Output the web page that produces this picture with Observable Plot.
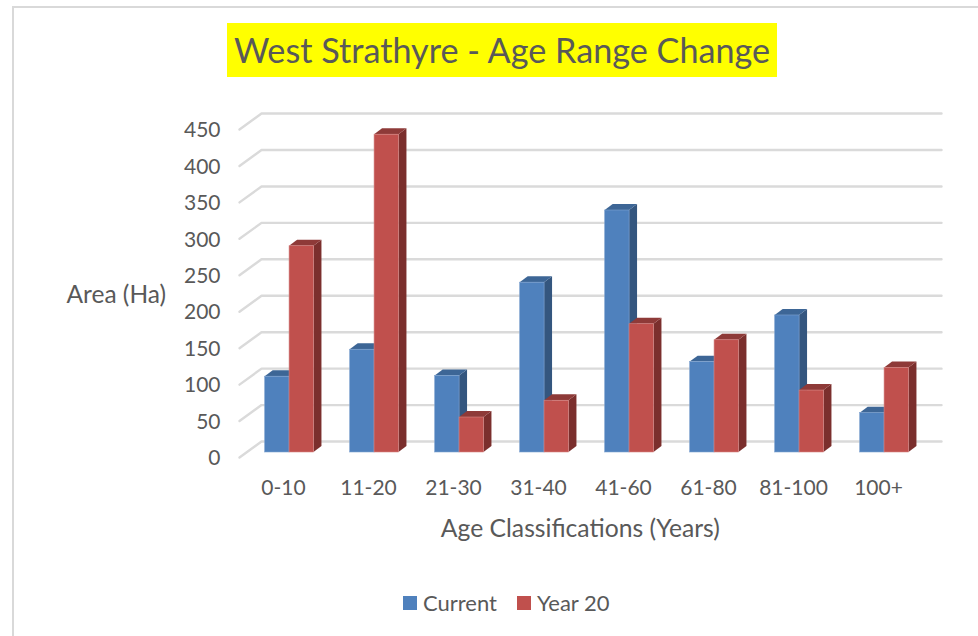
<!DOCTYPE html>
<html>
<head>
<meta charset="utf-8">
<script src="https://cdn.jsdelivr.net/npm/d3@7"></script>
<script src="https://cdn.jsdelivr.net/npm/@observablehq/plot@0.6"></script>
<style>
  html, body { margin: 0; padding: 0; background: #fff; }
  #page { position: relative; width: 978px; height: 636px; overflow: hidden; font-family: Lato, sans-serif; color: #595959; }
  #frame { position: absolute; left: 12px; top: 6px; width: 2000px; height: 2000px; border: 2px solid #d9d9d9; box-sizing: border-box; }
  #title { position: absolute; left: 227px; top: 23px; width: 550px; height: 54px; background: #ffff00; font-size: 34.2px; line-height: 54px; text-align: center; white-space: nowrap; }
  #chart { position: absolute; left: 0; top: 90px; }
  #legend { position: absolute; left: 403px; top: 591px; display: flex; align-items: center; font-size: 22px; line-height: 24px; }
  #legend i { display: block; width: 14px; height: 14px; margin-right: 6px; }
  #legend span { margin-right: 20px; white-space: nowrap; }
</style>
</head>
<body>
<div id="page">
  <div id="frame"></div>
  <div id="title">West Strathyre - Age Range Change</div>
  <div id="chart"></div>
  <div id="legend"></div>
</div>
<script>
const categories = ["0-10", "11-20", "21-30", "31-40", "41-60", "61-80", "81-100", "100+"];
const current = [104, 141, 105, 233, 332, 124, 188, 54];
const year20 = [283, 436, 48, 71, 176, 154, 85, 116];
const yTicks = [0, 50, 100, 150, 200, 250, 300, 350, 400, 450];
const seriesNames = ["Current", "Year 20"];
const frontColors = ["#4f81bd", "#c0504d"];
const sideColors = ["#34567f", "#7b2f2d"];
const topColors = ["#3d6696", "#8e3a38"];
const edgeColors = ["#7fa3d0", "#d58583"];

// 3D layout, in scale units: one category is 1 x-unit wide
const barOffset = 0.302, barWidth = 0.287;
const barDepthX = 0.094, barDepthY = 8.2;
const wallDepthX = 0.259, wallDepthY = 21.9;

const series = [current, year20];
const marks = [];

// Floor-to-wall gridlines
const gridRows = yTicks.flatMap((t) => [
  {t, x: 0, y: t},
  {t, x: wallDepthX, y: t + wallDepthY},
  {t, x: 8 + wallDepthX, y: t + wallDepthY}
]);
marks.push(Plot.line(gridRows, {x: "x", y: "y", z: "t", stroke: "#dadada", strokeWidth: 2.4}));

series.forEach((vals, s) => {
  const bars = vals.map((v, i) => ({
    id: i,
    v,
    x1: i + barOffset + s * barWidth,
    x2: i + barOffset + (s + 1) * barWidth
  }));
  const sideRows = bars.flatMap((b) => [
    {id: b.id, x: b.x2, y1: 0, y2: b.v},
    {id: b.id, x: b.x2 + barDepthX, y1: barDepthY, y2: b.v + barDepthY}
  ]);
  const topRows = bars.flatMap((b) => [
    {id: b.id, x: b.x1, y1: b.v, y2: b.v},
    {id: b.id, x: b.x1 + barDepthX, y1: b.v, y2: b.v + barDepthY},
    {id: b.id, x: b.x2, y1: b.v, y2: b.v + barDepthY},
    {id: b.id, x: b.x2 + barDepthX, y1: b.v + barDepthY, y2: b.v + barDepthY}
  ]);
  const lift = -5;
  marks.push(Plot.area(sideRows, {x1: "x", y1: "y1", y2: "y2", z: "id", fill: sideColors[s], dy: lift}));
  marks.push(Plot.area(topRows, {x1: "x", y1: "y1", y2: "y2", z: "id", fill: topColors[s], dy: lift}));
  marks.push(Plot.rect(bars, {x1: "x1", x2: "x2", y1: 0, y2: "v", fill: frontColors[s], stroke: edgeColors[s], strokeWidth: 0.6, dy: lift}));
});

marks.push(Plot.axisY({ticks: yTicks, tickSize: 0, tickPadding: 19, label: null, fontSize: 21, fill: "#595959", dy: 1}));
marks.push(Plot.axisX({
  ticks: categories.map((c, i) => i + 0.5),
  tickFormat: (d) => categories[d - 0.5],
  tickSize: 0, tickPadding: 23, dx: 1.5, fontSize: 21, fill: "#595959", label: null
}));
marks.push(Plot.text(["Area (Ha)"], {x: -1.45, y: 223, fontSize: 24.5, fill: "#595959"}));
marks.push(Plot.text(["Age Classifications (Years)"], {x: 4.01, y: -98, fontSize: 24.7, fill: "#595959"}));

const plot = Plot.plot({
  width: 978,
  height: 490,
  marginLeft: 239,
  marginRight: 59,
  marginTop: 39,
  marginBottom: 123,
  style: {fontFamily: "Lato, sans-serif", fontSize: "21px", color: "#595959", overflow: "visible", background: "transparent"},
  x: {type: "linear", domain: [0, 8]},
  y: {type: "linear", domain: [0, 450]},
  marks
});
document.getElementById("chart").appendChild(plot);

const legend = document.getElementById("legend");
seriesNames.forEach((name, s) => {
  const swatch = document.createElement("i");
  swatch.style.background = frontColors[s];
  const label = document.createElement("span");
  label.textContent = name;
  legend.append(swatch, label);
});
</script>
</body>
</html>
